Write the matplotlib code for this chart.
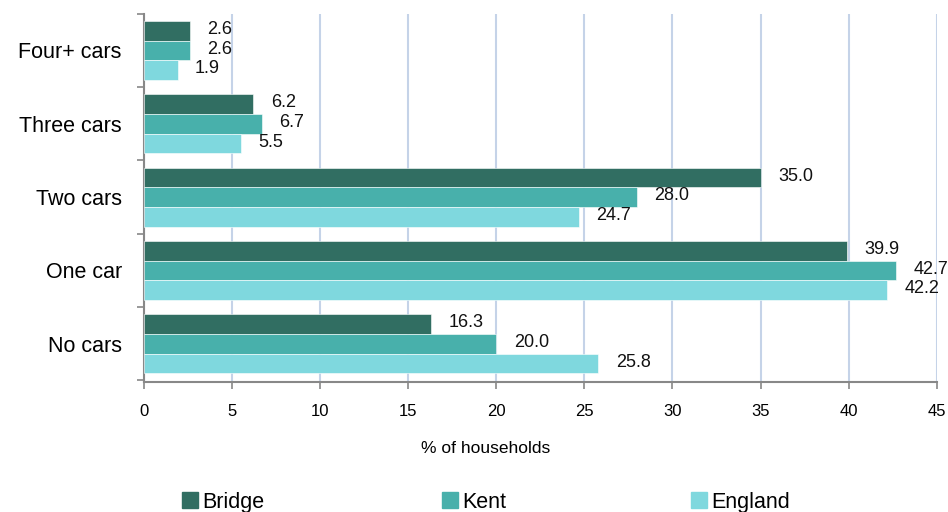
import numpy as np
import matplotlib
matplotlib.use("Agg")
import matplotlib.pyplot as plt
from matplotlib.patches import Patch

plt.rcParams['font.family'] = ['Liberation Sans', 'DejaVu Sans']

categories = ["Four+ cars", "Three cars", "Two cars", "One car", "No cars"]
series = ["Bridge", "Kent", "England"]
bridge = [2.6, 6.2, 35.0, 39.9, 16.3]
kent = [2.6, 6.7, 28.0, 42.7, 20.0]
england = [1.9, 5.5, 24.7, 42.2, 25.8]
colors = ["#316E62", "#48B0AB", "#7FD8DE"]

fig = plt.figure(figsize=(9.48, 5.12), dpi=100)
ax = fig.add_axes([0.152, 0.254, 0.836, 0.719])

y = np.arange(len(categories))
h = 0.267
for i, (vals, c) in enumerate(zip([bridge, kent, england], colors)):
    pos = y + (i - 1) * h
    ax.barh(pos, vals, height=h, color=c, edgecolor="white", linewidth=0.4, zorder=3)
    for p, v in zip(pos, vals):
        ax.annotate(f"{v:.1f}", (v, p), xytext=(12.5, 1), textcoords="offset points",
                    va="center", ha="left", fontsize=13, color="#111111")

ax.set_ylim(len(categories) - 0.5 + 0.02, -0.48)
ax.set_xlim(0, 45)
ax.set_xticks(np.arange(0, 46, 5))
ax.set_yticks(y)
ax.set_yticklabels(categories, fontsize=15.5)
ax.set_yticks(np.arange(-0.5, len(categories), 1), minor=True)
ax.tick_params(axis="y", which="major", length=0, pad=16)
ax.tick_params(axis="y", which="minor", length=5, color="#888888", width=1.2)
ax.tick_params(axis="x", length=5, color="#888888", width=1.2, labelsize=12, pad=11)
ax.xaxis.grid(True, color="#C5D3E8", linewidth=1.5, zorder=0)
for s in ["top", "right"]:
    ax.spines[s].set_visible(False)
for s in ["left", "bottom"]:
    ax.spines[s].set_color("#888888")
    ax.spines[s].set_linewidth(1.5)
ax.set_xlabel("% of households", fontsize=12.5)
ax.xaxis.set_label_coords(0.431, -0.16)

# legend entries spaced evenly like the original
legend_x = [0.183, 0.457, 0.720]
for c, s, lx in zip(colors, series, legend_x):
    fig.legend(handles=[Patch(color=c, label=s)], loc="lower left",
               bbox_to_anchor=(lx, -0.018), frameon=False, fontsize=15.5,
               handlelength=0.75, handleheight=0.75, handletextpad=0.2,
               borderaxespad=0, borderpad=0.4)

fig.savefig("out.png", dpi=100)
